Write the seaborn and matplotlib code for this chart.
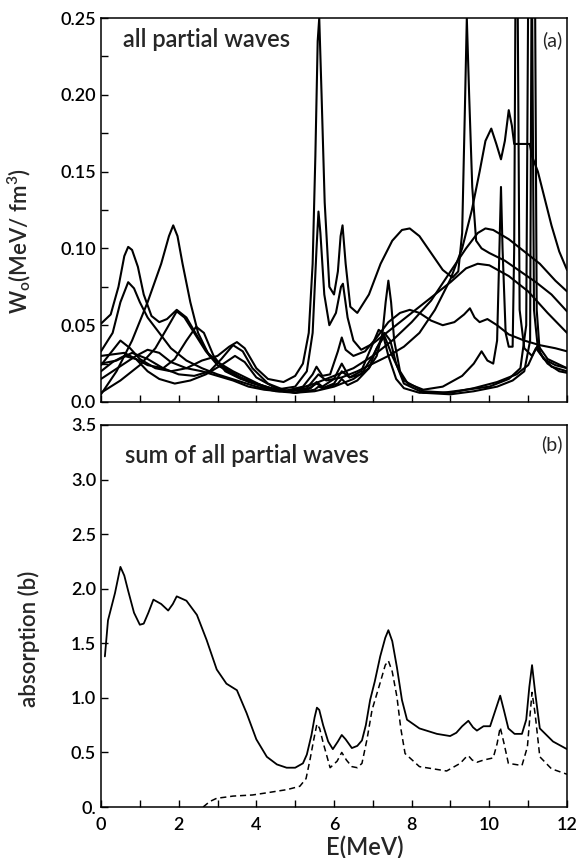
import numpy as np
import pandas as pd
import matplotlib
matplotlib.use("Agg")
import matplotlib.pyplot as plt
from matplotlib.ticker import FixedLocator, FixedFormatter, MultipleLocator
import seaborn as sns

# ---- panel (a): partial-wave contributions W_o(E) ----
pw1_E = [0.0, 0.25, 0.5, 0.75, 1.0, 1.4, 1.8, 2.2, 2.6, 3.0, 3.3, 3.5, 3.7, 4.0, 4.3, 4.7, 5.0, 5.2, 5.35, 5.45,
         5.52, 5.58, 5.62, 5.68, 5.76, 5.88, 6.0, 6.1, 6.17, 6.22, 6.3, 6.42, 6.6, 6.9, 7.2, 7.5, 7.75, 7.95, 8.2,
         8.5, 8.8, 9.05, 9.2, 9.3, 9.37, 9.42, 9.48, 9.56, 9.66, 9.8, 10.0, 10.4, 10.8, 11.2, 11.6, 12.0]
pw1_W = [0.024, 0.032, 0.040, 0.035, 0.028, 0.022, 0.020, 0.022, 0.027, 0.030, 0.036, 0.039, 0.035, 0.022, 0.015,
         0.013, 0.017, 0.025, 0.045, 0.090, 0.160, 0.235, 0.250, 0.200, 0.130, 0.075, 0.070, 0.085, 0.108, 0.115,
         0.090, 0.062, 0.058, 0.070, 0.090, 0.105, 0.112, 0.113, 0.108, 0.097, 0.086, 0.081, 0.085, 0.110, 0.190,
         0.250, 0.200, 0.140, 0.105, 0.100, 0.097, 0.092, 0.085, 0.078, 0.070, 0.059]

pw2_E = [0.0, 0.25, 0.45, 0.6, 0.7, 0.8, 0.95, 1.1, 1.3, 1.5, 1.7, 1.95, 2.2, 2.5, 2.8, 3.2, 3.6, 4.0, 4.5, 5.0,
         5.3, 5.45, 5.55, 5.6, 5.65, 5.75, 5.88, 6.05, 6.18, 6.23, 6.35, 6.5, 6.7, 7.0, 7.5, 8.0, 8.5, 9.0, 9.4,
         9.7, 10.0, 10.5, 11.0, 11.5, 12.0]
pw2_W = [0.051, 0.057, 0.075, 0.095, 0.101, 0.099, 0.088, 0.070, 0.056, 0.052, 0.054, 0.060, 0.055, 0.042, 0.030,
         0.022, 0.016, 0.012, 0.008, 0.010, 0.020, 0.045, 0.100, 0.124, 0.110, 0.070, 0.050, 0.058, 0.075, 0.077,
         0.055, 0.040, 0.034, 0.038, 0.048, 0.058, 0.068, 0.078, 0.087, 0.090, 0.089, 0.082, 0.072, 0.058, 0.045]

pw3_E = [0.0, 0.4, 0.8, 1.2, 1.55, 1.75, 1.86, 1.97, 2.1, 2.3, 2.5, 2.75, 3.0, 3.4, 3.8, 4.2, 4.7, 5.2, 5.45, 5.55,
         5.7, 5.9, 6.1, 6.2, 6.3, 6.5, 6.8, 7.1, 7.4, 7.7, 7.95, 8.2, 8.5, 8.8, 9.1, 9.35, 9.5, 9.62, 9.75, 9.95,
         10.2, 10.5, 10.9, 11.3, 11.7, 12.0]
pw3_W = [0.005, 0.020, 0.040, 0.065, 0.090, 0.108, 0.115, 0.108, 0.090, 0.065, 0.045, 0.032, 0.026, 0.020, 0.015,
         0.010, 0.007, 0.010, 0.018, 0.023, 0.017, 0.018, 0.033, 0.042, 0.034, 0.030, 0.033, 0.042, 0.052, 0.058,
         0.060, 0.058, 0.053, 0.050, 0.052, 0.057, 0.061, 0.055, 0.052, 0.054, 0.050, 0.044, 0.040, 0.037, 0.035,
         0.033]

pw4_E = [0.0, 0.3, 0.5, 0.7, 0.85, 1.0, 1.2, 1.5, 1.8, 2.2, 2.6, 3.0, 3.5, 4.0, 4.5, 5.0, 5.5, 6.0, 6.5, 6.9,
         7.1, 7.25, 7.33, 7.4, 7.47, 7.55, 7.7, 7.9, 8.3, 8.8, 9.3, 9.6, 9.8, 9.95, 10.1, 10.2, 10.26, 10.3, 10.34,
         10.42, 10.5, 10.6, 10.64, 10.68, 10.72, 10.78, 10.9, 11.1, 11.25, 11.5, 12.0]
pw4_W = [0.033, 0.045, 0.065, 0.078, 0.074, 0.065, 0.055, 0.045, 0.035, 0.027, 0.022, 0.018, 0.014, 0.010, 0.007,
         0.006, 0.007, 0.010, 0.015, 0.022, 0.030, 0.045, 0.065, 0.079, 0.065, 0.040, 0.020, 0.012, 0.008, 0.010,
         0.017, 0.025, 0.033, 0.027, 0.025, 0.040, 0.100, 0.140, 0.100, 0.045, 0.036, 0.036, 0.100, 0.300, 0.300,
         0.060, 0.035, 0.030, 0.037, 0.028, 0.022]

pw5_E = [0.0, 0.5, 1.0, 1.4, 1.7, 1.95, 2.15, 2.4, 2.7, 3.0, 3.4, 3.8, 4.3, 4.8, 5.3, 5.6, 5.8, 6.2, 6.6, 7.0,
         7.4, 7.8, 8.2, 8.6, 9.0, 9.3, 9.55, 9.75, 9.9, 10.05, 10.18, 10.3, 10.4, 10.5, 10.58, 10.64, 10.66, 11.04,
         11.1, 11.25, 11.4, 11.6, 11.8, 12.0]
pw5_W = [0.006, 0.014, 0.024, 0.035, 0.048, 0.059, 0.055, 0.045, 0.033, 0.024, 0.018, 0.013, 0.009, 0.007, 0.009,
         0.018, 0.014, 0.016, 0.020, 0.025, 0.030, 0.036, 0.045, 0.060, 0.080, 0.100, 0.125, 0.150, 0.170, 0.178,
         0.168, 0.158, 0.170, 0.190, 0.180, 0.168, 0.168, 0.168, 0.160, 0.150, 0.135, 0.115, 0.098, 0.086]

pw6_E = [0.0, 0.3, 0.6, 0.9, 1.2, 1.6, 1.9, 2.2, 2.45, 2.65, 2.9, 3.2, 3.6, 4.0, 4.5, 5.0, 5.5, 5.6, 5.7, 6.0,
         6.2, 6.4, 6.7, 6.95, 7.15, 7.25, 7.4, 7.6, 7.8, 8.2, 8.8, 9.4, 10.0, 10.5, 10.8, 10.95, 11.02, 11.08,
         11.15, 11.25, 11.4, 11.7, 12.0]
pw6_W = [0.020, 0.026, 0.030, 0.028, 0.024, 0.022, 0.028, 0.040, 0.049, 0.045, 0.030, 0.020, 0.015, 0.012, 0.008,
         0.006, 0.008, 0.010, 0.009, 0.012, 0.020, 0.016, 0.020, 0.035, 0.047, 0.045, 0.030, 0.015, 0.009, 0.006,
         0.006, 0.008, 0.010, 0.015, 0.022, 0.050, 0.350, 0.350, 0.060, 0.035, 0.028, 0.024, 0.022]

pw7_E = [0.0, 0.3, 0.6, 0.9, 1.2, 1.5, 1.9, 2.3, 2.7, 3.1, 3.45, 3.7, 4.0, 4.5, 5.0, 5.4, 5.55, 5.7, 6.0, 6.2,
         6.4, 6.7, 7.0, 7.2, 7.3, 7.45, 7.6, 7.8, 8.3, 9.0, 9.6, 10.2, 10.6, 10.9, 11.05, 11.1, 11.16, 11.22, 11.3,
         11.5, 11.8, 12.0]
pw7_W = [0.030, 0.031, 0.032, 0.028, 0.020, 0.015, 0.012, 0.014, 0.018, 0.024, 0.030, 0.026, 0.016, 0.009, 0.006,
         0.009, 0.013, 0.010, 0.015, 0.025, 0.016, 0.018, 0.030, 0.040, 0.045, 0.040, 0.025, 0.012, 0.006, 0.005,
         0.007, 0.010, 0.014, 0.020, 0.040, 0.350, 0.350, 0.060, 0.032, 0.025, 0.020, 0.019]

pw8_E = [0.0, 0.3, 0.6, 0.9, 1.2, 1.5, 1.8, 2.2, 2.6, 3.0, 3.4, 3.8, 4.2, 4.6, 5.0, 5.5, 6.0, 6.5, 7.0, 7.5,
         8.0, 8.5, 9.0, 9.4, 9.7, 9.9, 10.1, 10.5, 10.9, 11.3, 11.7, 12.0]
pw8_W = [0.015, 0.020, 0.025, 0.030, 0.034, 0.032, 0.026, 0.022, 0.020, 0.017, 0.014, 0.010, 0.008, 0.007, 0.008,
         0.012, 0.017, 0.022, 0.030, 0.040, 0.052, 0.066, 0.085, 0.100, 0.110, 0.113, 0.112, 0.106, 0.098, 0.090,
         0.079, 0.072]

pw9_E = [0.0, 0.4, 0.8, 1.2, 1.6, 2.0, 2.4, 2.8, 3.1, 3.4, 3.65, 3.9, 4.3, 4.8, 5.3, 5.55, 5.75, 6.1, 6.2, 6.35,
         6.6, 6.9, 7.1, 7.3, 7.5, 7.8, 8.3, 9.0, 9.6, 10.2, 10.7, 11.0, 11.2, 11.35, 11.6, 12.0]
pw9_W = [0.025, 0.027, 0.032, 0.028, 0.022, 0.018, 0.017, 0.020, 0.028, 0.037, 0.033, 0.022, 0.012, 0.007, 0.008,
         0.012, 0.009, 0.012, 0.015, 0.011, 0.014, 0.022, 0.035, 0.043, 0.030, 0.014, 0.007, 0.006, 0.009, 0.013,
         0.018, 0.024, 0.035, 0.030, 0.023, 0.020]

# ---- panel (b): summed absorption cross section ----
sum_E = [0.1, 0.18, 0.36, 0.5, 0.6, 0.7, 0.85, 1.0, 1.1, 1.22, 1.35, 1.55, 1.73, 1.85, 1.95, 2.2, 2.47, 2.72,
         2.98, 3.23, 3.5, 3.75, 4.0, 4.27, 4.53, 4.78, 5.0, 5.2, 5.3, 5.42, 5.5, 5.56, 5.62, 5.72, 5.85, 5.97,
         6.1, 6.2, 6.3, 6.46, 6.6, 6.72, 6.82, 6.93, 7.05, 7.19, 7.32, 7.4, 7.5, 7.62, 7.75, 7.88, 8.2, 8.65,
         8.99, 9.15, 9.3, 9.46, 9.58, 9.68, 9.85, 10.02, 10.15, 10.28, 10.38, 10.49, 10.65, 10.84, 10.95, 11.03,
         11.1, 11.18, 11.3, 11.64, 12.0]
sum_abs = [1.38, 1.71, 1.96, 2.20, 2.12, 1.98, 1.78, 1.67, 1.68, 1.78, 1.90, 1.86, 1.80, 1.86, 1.93, 1.89, 1.76,
           1.53, 1.26, 1.13, 1.07, 0.86, 0.62, 0.46, 0.39, 0.36, 0.36, 0.40, 0.48, 0.66, 0.82, 0.91, 0.89, 0.75,
           0.60, 0.53, 0.60, 0.66, 0.62, 0.54, 0.56, 0.61, 0.75, 0.98, 1.15, 1.38, 1.55, 1.62, 1.52, 1.28, 0.98,
           0.80, 0.72, 0.67, 0.65, 0.68, 0.74, 0.79, 0.73, 0.70, 0.74, 0.74, 0.88, 1.02, 0.88, 0.72, 0.67, 0.67,
           0.80, 1.10, 1.30, 1.05, 0.72, 0.60, 0.53]

part_E = [2.63, 2.8, 2.98, 3.2, 3.4, 3.9, 4.27, 4.8, 5.12, 5.28, 5.38, 5.48, 5.56, 5.63, 5.72, 5.9, 6.08, 6.2,
          6.32, 6.46, 6.6, 6.72, 6.85, 6.98, 7.19, 7.32, 7.4, 7.5, 7.62, 7.72, 7.83, 8.2, 8.9, 9.25, 9.38, 9.46,
          9.56, 9.68, 9.85, 10.1, 10.2, 10.28, 10.38, 10.49, 10.84, 10.98, 11.05, 11.1, 11.18, 11.3, 11.6, 12.0]
part_abs = [0.0, 0.05, 0.08, 0.09, 0.10, 0.11, 0.13, 0.16, 0.19, 0.26, 0.43, 0.62, 0.76, 0.72, 0.59, 0.36, 0.42,
            0.50, 0.43, 0.37, 0.36, 0.40, 0.62, 0.89, 1.14, 1.30, 1.34, 1.24, 1.01, 0.72, 0.49, 0.37, 0.33, 0.40,
            0.45, 0.47, 0.43, 0.41, 0.43, 0.45, 0.58, 0.73, 0.58, 0.40, 0.38, 0.55, 0.85, 1.05, 0.85, 0.46, 0.35,
            0.30]

sns.set_theme(style="ticks")
plt.rcParams["font.family"] = ["Lato", "DejaVu Sans"]
plt.rcParams["font.weight"] = "semibold"
plt.rcParams["axes.labelweight"] = "semibold"
plt.rcParams["mathtext.default"] = "regular"

waves = [(pw1_E, pw1_W), (pw2_E, pw2_W), (pw3_E, pw3_W), (pw4_E, pw4_W), (pw5_E, pw5_W),
         (pw6_E, pw6_W), (pw7_E, pw7_W), (pw8_E, pw8_W), (pw9_E, pw9_W)]
frames = [pd.DataFrame({"E": e, "W": w, "wave": i}) for i, (e, w) in enumerate(waves)]
df_waves = pd.concat(frames, ignore_index=True)

W_px, H_px = 583, 858
fig = plt.figure(figsize=(W_px / 100, H_px / 100), dpi=100)
left, right = 101 / W_px, 567 / W_px
ax_a = fig.add_axes([left, 1 - 402 / H_px, right - left, (402 - 18) / H_px])
ax_b = fig.add_axes([left, 1 - 807 / H_px, right - left, (807 - 425) / H_px])

sns.lineplot(data=df_waves, x="E", y="W", units="wave", estimator=None, sort=False,
             color="black", linewidth=1.5, ax=ax_a, legend=False)

df_sum = pd.DataFrame({"E": sum_E, "abs": sum_abs})
df_part = pd.DataFrame({"E": part_E, "abs": part_abs})
sns.lineplot(data=df_sum, x="E", y="abs", sort=False, color="black", linewidth=1.3, ax=ax_b)
sns.lineplot(data=df_part, x="E", y="abs", sort=False, color="black", linewidth=1.1, ax=ax_b)
ax_b.lines[-1].set_dashes([4, 2.5])

for ax in (ax_a, ax_b):
    ax.set_xlim(0, 12)
    ax.xaxis.set_major_locator(MultipleLocator(2))
    ax.xaxis.set_minor_locator(MultipleLocator(1))
    ax.tick_params(which="both", direction="in", length=5, width=1, colors="black",
                   labelsize=13, top=False, right=False)
    for sp in ax.spines.values():
        sp.set_visible(True)
        sp.set_linewidth(1.1)
        sp.set_color("black")
    ax.set_facecolor("white")

ax_a.set_ylim(0, 0.25)
ax_a.yaxis.set_major_locator(FixedLocator([0, 0.05, 0.10, 0.15, 0.20, 0.25]))
ax_a.yaxis.set_major_formatter(FixedFormatter(["0.0", "0.05", "0.10", "0.15", "0.20", "0.25"]))
ax_a.yaxis.set_minor_locator(MultipleLocator(0.025))
ax_a.set_xticklabels([])
ax_a.set_xlabel("")
ax_a.set_ylabel(r"W$_{o}$(MeV/ fm$^{3}$)", fontsize=16)
ax_a.yaxis.set_label_coords(-0.145, 0.42)
ax_a.text(0.047, 0.943, "all partial waves", transform=ax_a.transAxes, fontsize=17,
          ha="left", va="center")
ax_a.text(0.99, 0.943, "(a)", transform=ax_a.transAxes, fontsize=14, ha="right", va="center",
          fontweight="normal")

ax_b.set_ylim(0, 3.5)
ax_b.yaxis.set_major_locator(FixedLocator([0, 0.5, 1.0, 1.5, 2.0, 2.5, 3.0, 3.5]))
ax_b.yaxis.set_major_formatter(FixedFormatter(["0.", "0.5", "1.0", "1.5", "2.0", "2.5", "3.0", "3.5"]))
ax_b.set_xticks([0, 2, 4, 6, 8, 10, 12])
ax_b.set_xticklabels(["0", "2", "4", "6", "8", "10", "12"])
ax_b.tick_params(axis="x", which="major", pad=7, labelsize=13)
ax_b.set_xlabel("E(MeV)", fontsize=17)
ax_b.xaxis.set_label_coords(0.567, -0.075)
ax_b.set_ylabel("absorption (b)", fontsize=16)
ax_b.yaxis.set_label_coords(-0.13, 0.44)
ax_b.text(0.052, 0.919, "sum of all partial waves", transform=ax_b.transAxes, fontsize=17,
          ha="left", va="center")
ax_b.text(0.99, 0.95, "(b)", transform=ax_b.transAxes, fontsize=14, ha="right", va="center",
          fontweight="normal")

fig.savefig("out.png", dpi=100, facecolor="white")
